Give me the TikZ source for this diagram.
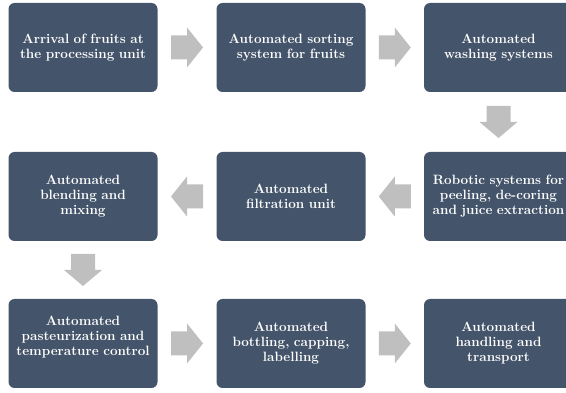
\documentclass[tikz,border=0pt]{standalone}
\usetikzlibrary{calc}
\definecolor{boxblue}{HTML}{44546A}
\definecolor{arrgray}{HTML}{BFBFBF}
\begin{document}
\begin{tikzpicture}[x=1pt,y=-1pt,
  stage/.style={rectangle, rounded corners=6pt, fill=boxblue, text=white,
    minimum width=149pt, minimum height=89pt, inner sep=0pt, text width=146pt,
    align=center, font=\fontsize{13.5}{15}\selectfont\bfseries},
  flow/.style={fill=arrgray, draw=none},
  rarr/.pic={\fill[flow] (-16,-12) -- (0,-12) -- (0,-20) -- (16,0) -- (0,20) -- (0,12) -- (-16,12) -- cycle;},
  larr/.pic={\fill[flow] (16,-12) -- (0,-12) -- (0,-20) -- (-16,0) -- (0,20) -- (0,12) -- (16,12) -- cycle;},
  darr/.pic={\fill[flow] (-12,-16) -- (-12,0) -- (-19,0) -- (0,16) -- (19,0) -- (12,0) -- (12,-16) -- cycle;}]
\useasboundingbox (0,0) rectangle (566,393);
\clip (0,0) rectangle (566,393);
\node[stage] (a1) at (83,47.5) {Arrival of fruits at\\the processing unit};
\node[stage] (a2) at (291,47.5) {Automated sorting\\system for fruits};
\node[stage] (a3) at (498.5,47.5) {Automated\\washing systems};
\node[stage] (b3) at (498.5,196.5) {Robotic systems for\\peeling, de-coring\\and juice extraction};
\node[stage] (b2) at (291,196.5) {Automated\\filtration unit};
\node[stage] (b1) at (83,196.5) {Automated\\blending and\\mixing};
\node[stage] (c1) at (83,343.5) {Automated\\pasteurization and\\temperature control\\\mbox{}};
\node[stage] (c2) at (291,343.5) {Automated\\bottling, capping,\\labelling};
\node[stage] (c3) at (498.5,343.5) {Automated\\handling and\\transport};
\coordinate (f1) at ($(a1.east)!0.5!(a2.west)$);
\coordinate (f2) at ($(a2.east)!0.5!(a3.west)$);
\coordinate (f3) at ($(a3.south)!0.5!(b3.north)$);
\coordinate (f4) at ($(b3.west)!0.5!(b2.east)$);
\coordinate (f5) at ($(b2.west)!0.5!(b1.east)$);
\coordinate (f6) at ($(b1.south)!0.5!(c1.north)$);
\coordinate (f7) at ($(c1.east)!0.5!(c2.west)$);
\coordinate (f8) at ($(c2.east)!0.5!(c3.west)$);
\pic at (f1) {rarr};
\pic at (f2) {rarr};
\pic at (f3) {darr};
\pic at (f4) {larr};
\pic at (f5) {larr};
\pic at (f6) {darr};
\pic at (f7) {rarr};
\pic at (f8) {rarr};
\end{tikzpicture}
\end{document}
